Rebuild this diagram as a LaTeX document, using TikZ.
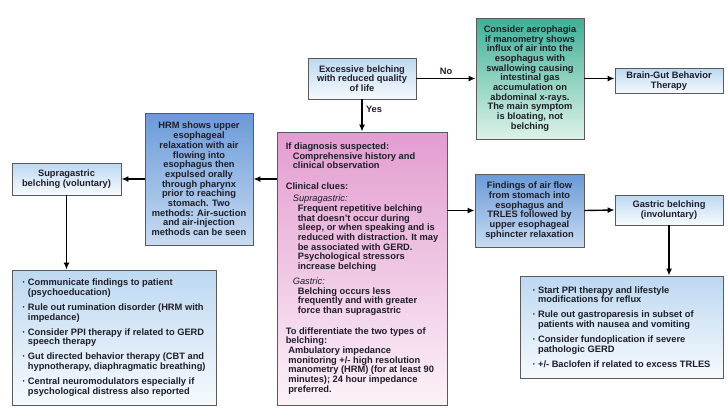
\documentclass[tikz,border=0pt]{standalone}
\usepackage{fontspec}
\setmainfont{Liberation Sans}
\usetikzlibrary{arrows.meta,shadings}
\definecolor{EdgeGray}{HTML}{5A5A5A}
\definecolor{InkDark}{HTML}{1E1E28}
\definecolor{SkyTop}{HTML}{BDD8F1}
\definecolor{SkyBot}{HTML}{F6FAFD}
\definecolor{BlueTop}{HTML}{6A9AD8}
\definecolor{BlueBot}{HTML}{C8DBF1}
\definecolor{PinkTop}{HTML}{E39CD0}
\definecolor{PinkBot}{HTML}{FCF2F8}
\definecolor{GreenTop}{HTML}{3FB096}
\definecolor{GreenBot}{HTML}{DDF2E8}

\newcommand{\bul}{\makebox[5.5pt][l]{\textperiodcentered}}
\newcommand{\cont}{\hspace*{5.5pt}}

\begin{document}
\begin{tikzpicture}[x=1pt,y=-1pt,
    font=\fontsize{9.3}{9.7}\selectfont\bfseries,
    box/.style={draw=EdgeGray,line width=0.8pt,inner sep=3pt,text=InkDark,align=center},
    skybox/.style={box,top color=SkyTop,bottom color=SkyBot},
    bluebox/.style={box,top color=BlueTop,bottom color=BlueBot},
    arr/.style={line width=1.4pt,-{Latex[length=7pt,width=6pt]}}]
  \useasboundingbox (0,0) rectangle (728,416);

  % top row
  \node[skybox,minimum width=108pt,minimum height=41pt] (start) at (362,78.5)
    {Excessive belching\\with reduced quality\\of life};
  \node[box,top color=GreenTop,bottom color=GreenBot,
        minimum width=108pt,minimum height=121pt] (aero) at (530,78.5)
    {Consider aerophagia\\if manometry shows\\influx of air into the\\esophagus with\\
     swallowing causing\\intestinal gas\\accumulation on\\abdominal x-rays.\\
     The main symptom\\is bloating, not\\belching};
  \node[skybox,minimum width=108pt,minimum height=25pt] (brain) at (669,81)
    {Brain-Gut Behavior\\Therapy};

  % middle row
  \node[box,top color=PinkTop,bottom color=PinkBot,align=left,
        minimum width=170pt,minimum height=273pt] (clues) at (362,268.5)
    {If diagnosis suspected:\\
     \hspace*{7pt}Comprehensive history and\\
     \hspace*{7pt}clinical observation\\[11pt]
     Clinical clues:\\[2.5pt]
     \hspace*{7pt}{\mdseries\itshape Supragastric:}\\
     \hspace*{12pt}Frequent repetitive belching\\
     \hspace*{12pt}that doesn't occur during\\
     \hspace*{12pt}sleep, or when speaking and is\\
     \hspace*{12pt}reduced with distraction. It may\\
     \hspace*{12pt}be associated with GERD.\\
     \hspace*{12pt}Psychological stressors\\
     \hspace*{12pt}increase belching\\[5pt]
     \hspace*{7pt}{\mdseries\itshape Gastric:}\\
     \hspace*{12pt}Belching occurs less\\
     \hspace*{12pt}frequently and with greater\\
     \hspace*{12pt}force than supragastric\\[11pt]
     To differentiate the two types of\\
     belching:\\
     \hspace*{2.5pt}Ambulatory impedance\\
     \hspace*{2.5pt}monitoring +/- high resolution\\
     \hspace*{2.5pt}manometry (HRM) (for at least 90\\
     \hspace*{2.5pt}minutes); 24 hour impedance\\
     \hspace*{2.5pt}preferred.};
  \node[bluebox,minimum width=108pt,minimum height=132pt] (hrm) at (199,179)
    {HRM shows upper\\esophageal\\relaxation with air\\flowing into\\esophagus then\\
     expulsed orally\\through pharynx\\prior to reaching\\stomach. Two\\
     methods: Air-suction\\and air-injection\\methods can be seen};
  \node[skybox,minimum width=109pt,minimum height=32pt] (supra) at (66.5,179)
    {Supragastric\\belching (voluntary)};
  \node[bluebox,minimum width=109pt,minimum height=73pt] (airflow) at (529.5,210.5)
    {Findings of air flow\\from stomach into\\esophagus and\\TRLES followed by\\
     upper esophageal\\sphincter relaxation};
  \node[skybox,minimum width=108pt,minimum height=30pt] (gastric) at (669,210)
    {Gastric belching\\(involuntary)};

  % bottom lists
  \node[skybox,align=left,minimum width=204pt,minimum height=135pt] (leftlist) at (114,337.5)
    {\bul Communicate findings to patient\\\cont(psychoeducation)\\[5.3pt]
     \bul Rule out rumination disorder (HRM with\\\cont impedance)\\[5.3pt]
     \bul Consider PPI therapy if related to GERD\\\cont speech therapy\\[5.3pt]
     \bul Gut directed behavior therapy (CBT and\\\cont hypnotherapy, diaphragmatic breathing)\\[5.3pt]
     \bul Central neuromodulators especially if\\\cont psychological distress also reported};
  \node[skybox,align=left,minimum width=203pt,minimum height=102pt] (rightlist) at (621.5,327)
    {\bul Start PPI therapy and lifestyle\\\cont modifications for reflux\\[5.3pt]
     \bul Rule out gastroparesis in subset of\\\cont patients with nausea and vomiting\\[5.3pt]
     \bul Consider fundoplication if severe\\\cont pathologic GERD\\[5.3pt]
     \bul +/- Baclofen if related to excess TRLES};

  % connectors
  \draw[arr] (start) -- node[above,text=InkDark] {No} (aero);
  \draw[arr] (start) -- node[right,pos=0.3,text=InkDark] {Yes} (clues);
  \draw[arr] (aero.east) -- (aero.east -| brain.west);
  \draw[arr] (clues.west |- hrm.east) -- (hrm.east);
  \draw[arr] (hrm.west) -- (supra.east);
  \draw[arr] (supra.south) -- (supra.south |- leftlist.north);
  \draw[arr] (clues.east |- airflow.west) -- (airflow.west);
  \draw[arr] (airflow.east) -- (gastric.west);
  \draw[arr] (gastric.south) -- (gastric.south |- rightlist.north);
\end{tikzpicture}
\end{document}
